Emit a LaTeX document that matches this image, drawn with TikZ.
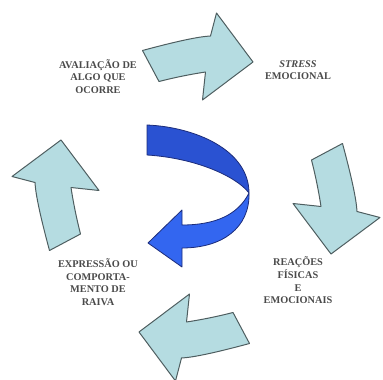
\documentclass[tikz,border=0pt]{standalone}
\usepackage{fontspec}
\setmainfont{Liberation Serif}
\begin{document}
\begin{tikzpicture}[x=1pt,y=1pt,
  cyclearrow/.style={fill=cyclefill,draw=cycleline,line width=1pt,line join=round},
  bandback/.style={fill=bluedark,draw=blueline,line width=0.8pt,line join=round},
  bandfront/.style={fill=bluelight,draw=blueline,line width=0.8pt,line join=round},
  label/.style={text=labelgray,font=\fontsize{10.3}{12.6}\selectfont\bfseries,align=center,inner sep=0pt}]
\definecolor{cyclefill}{HTML}{B5DCE1}
\definecolor{cycleline}{HTML}{4E5E60}
\definecolor{bluedark}{HTML}{2A52D2}
\definecolor{bluelight}{HTML}{3366F0}
\definecolor{blueline}{HTML}{1C2C7A}
\definecolor{labelgray}{HTML}{4A4A4A}
\useasboundingbox (0,0) rectangle (383,380);

% one curved arrow of the cycle, drawn pointing right at the top
\newcommand{\cyclepiece}[1]{%
  \draw[cyclearrow,shift={(196,183)},rotate=#1]
    (-53.5,146.5) .. controls (-19.5,155.7) and (3.2,160.5) .. (14.5,161)
    -- (20.5,184) -- (57,135) -- (6.5,97) -- (9.5,125)
    .. controls (-5,122.8) and (-20.5,119.7) .. (-37,115.5) -- cycle;}
\cyclepiece{0}
\cyclepiece{-90}
\cyclepiece{180}
\cyclepiece{90}

% twisted ribbon arrow in the middle
\coordinate (w) at (249,187);
\draw[bandback] (147,255) .. controls (195,253) and (249,230) .. (w)
  .. controls (236,204) and (195,222) .. (147,225) -- cycle;
\draw[bandfront] (w) .. controls (238,165) and (215,155) .. (182,155)
  -- (182,170) -- (148,137) -- (182,113) -- (182,132)
  .. controls (222,132) and (250,152) .. (w) -- cycle;

% stage labels
\node[label] (eval) at (98,303.5) {AVALIAÇÃO DE\\ALGO QUE\\OCORRE};
\node[label] (stress) at (298,310) {\textit{STRESS}\\EMOCIONAL};
\node[label] (reac) at (298,99.5) {REAÇÕES\\FÍSICAS\\E\\EMOCIONAIS};
\node[label] (expr) at (98,98) {EXPRESSÃO OU\\COMPORTA-\\MENTO DE\\RAIVA};
\end{tikzpicture}
\end{document}
